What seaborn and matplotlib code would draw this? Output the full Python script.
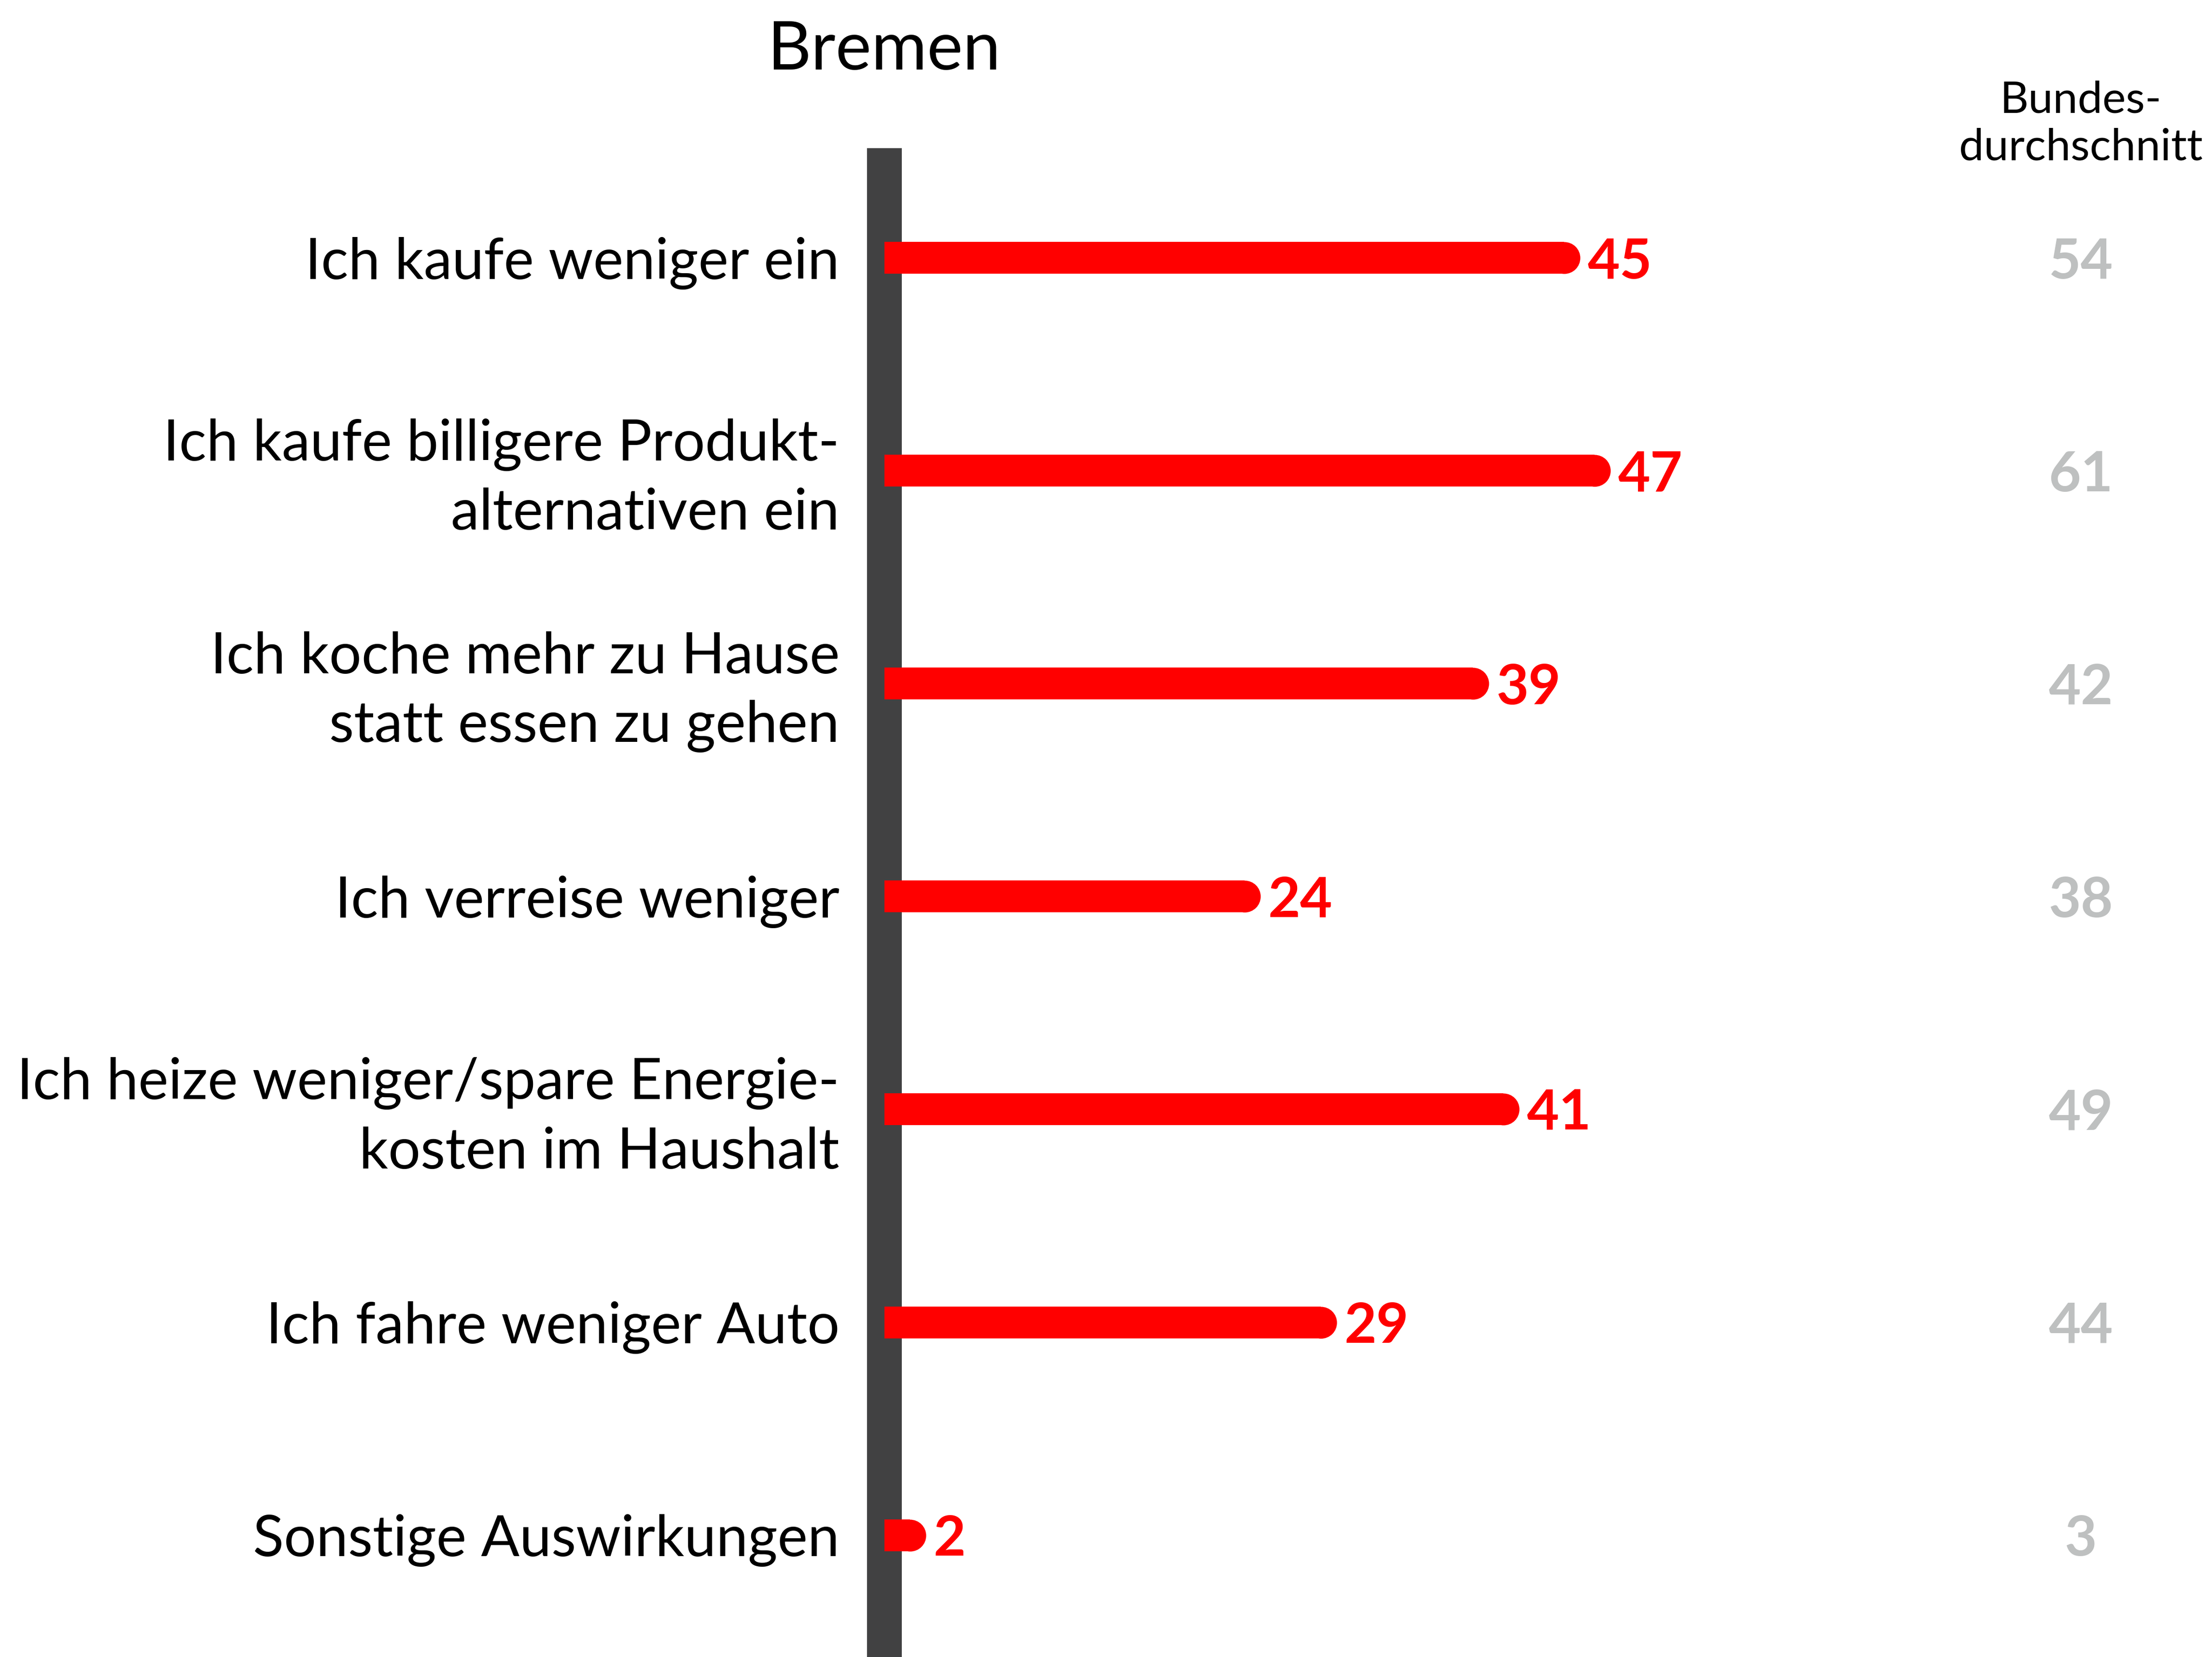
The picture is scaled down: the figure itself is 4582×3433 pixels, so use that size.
import numpy as np
import pandas as pd
import matplotlib
matplotlib.use("Agg")
import matplotlib.pyplot as plt
import matplotlib.transforms as mtransforms
import seaborn as sns

# ---- data ----
categories = [
    "Ich kaufe weniger ein",
    "Ich kaufe billigere Produkt-\nalternativen ein",
    "Ich koche mehr zu Hause\nstatt essen zu gehen",
    "Ich verreise weniger",
    "Ich heize weniger/spare Energie-\nkosten im Haushalt",
    "Ich fahre weniger Auto",
    "Sonstige Auswirkungen",
]
bremen_values = [45, 47, 39, 24, 41, 29, 2]
bund_values = [54, 61, 42, 38, 49, 44, 3]
title_text = "Bremen"
bund_header = ["Bundes-", "durchschnitt"]

RED = "#ff0000"
GREY_NUM = "#bec0c0"
AXIS_GREY = "#414142"
FONT = ["Lato", "DejaVu Sans"]

sns.set_theme(style="white")
plt.rcParams["font.family"] = FONT

W, H = 4582, 3433
DPI = 100
fig = plt.figure(figsize=(W / DPI, H / DPI), dpi=DPI)
fig.patch.set_facecolor("white")

# geometry in pixels
x_axis_px = 1832          # left edge of axes (spine centre)
x_zero_px = 1822          # value 0
px_per_unit = 31.5
y_top_px = 307
row0_px, row_step_px = 534, 441.1

ax = fig.add_axes([x_axis_px / W, 0, (W - x_axis_px) / W, 1 - y_top_px / H])
ax.set_facecolor("none")

df = pd.DataFrame({"category": categories, "value": bremen_values})
sns.barplot(data=df, x="value", y="category", orient="h", color=RED,
            saturation=1, width=66 / row_step_px, linewidth=0, ax=ax)
for p in ax.patches:
    p.set_zorder(3)

pos = np.arange(len(categories))
# rounded bar ends
ax.scatter(bremen_values, pos, s=(66 * 72 / DPI) ** 2, color=RED,
           linewidths=0, zorder=3, clip_on=False)

x_left = (x_axis_px - x_zero_px) / px_per_unit
x_right = (W - x_zero_px) / px_per_unit
ax.set_xlim(x_left, x_right)
y_top = -(row0_px - y_top_px) / row_step_px
y_bot = (H - row0_px) / row_step_px
ax.set_ylim(y_bot, y_top)

# value labels
for v, y in zip(bremen_values, pos):
    ax.annotate(str(v), xy=(v, y), xytext=(49 * 72 / DPI, 0),
                textcoords="offset points", ha="left", va="center_baseline",
                color=RED, fontsize=83, fontweight="bold", family=FONT)

# national average column
trans = mtransforms.blended_transform_factory(fig.transFigure, ax.transData)
for v, y in zip(bund_values, pos):
    ax.text(4310 / W, y, str(v), transform=trans, ha="center",
            va="center_baseline", color=GREY_NUM, fontsize=83,
            fontweight="bold", family=FONT, clip_on=False)

# header
fig.text(4310 / W, 1 - 233 / H, bund_header[0], ha="center", va="baseline",
         fontsize=66, color="black", family=FONT)
fig.text(4310 / W, 1 - 332 / H, bund_header[1], ha="center", va="baseline",
         fontsize=66, color="black", family=FONT)

# title
fig.text(1831 / W, 1 - 144 / H, title_text, ha="center", va="baseline",
         fontsize=101, color="black", family=FONT)

# axes styling
for s in ["top", "right", "bottom"]:
    ax.spines[s].set_visible(False)
ax.spines["left"].set_visible(True)
ax.spines["left"].set_color(AXIS_GREY)
ax.spines["left"].set_linewidth(72 * 72 / DPI)
ax.spines["left"].set_capstyle("butt")
ax.set_xticks([])
ax.set_xlabel("")
ax.set_ylabel("")
ax.tick_params(axis="y", length=0, pad=(x_axis_px - 1739) * 72 / DPI)
ax.set_yticks(pos)
ax.set_yticklabels(categories, fontsize=85, color="black", family=FONT,
                   linespacing=1.40)
shift_down = mtransforms.ScaledTranslation(0, -17 / DPI, fig.dpi_scale_trans)
for lab in ax.get_yticklabels():
    if "\n" in lab.get_text():
        lab.set_va("center")
        lab.set_transform(lab.get_transform() + shift_down)
    lab.set_ha("right")

fig.savefig("out.png", dpi=DPI, facecolor="white")
